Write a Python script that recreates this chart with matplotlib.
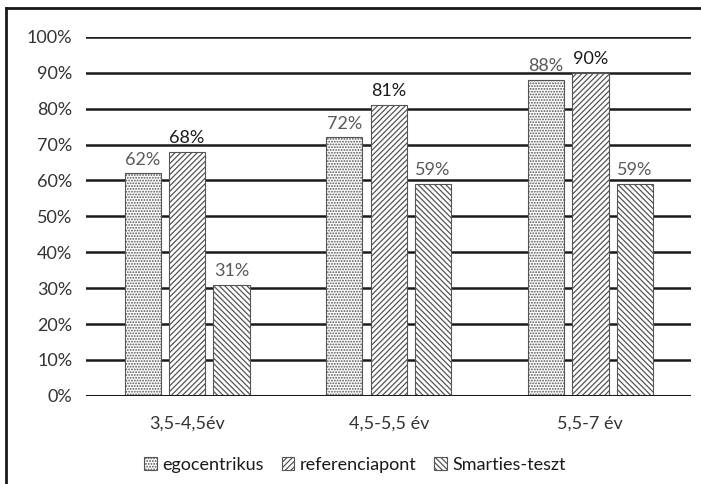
import matplotlib.pyplot as plt
import numpy as np
from matplotlib.lines import Line2D

plt.rcParams['font.family'] = ['Lato', 'DejaVu Sans']
plt.rcParams['hatch.linewidth'] = 0.9

# Age groups and the share of children in each task
age_groups = ['3,5-4,5év', '4,5-5,5 év', '5,5-7 év']
egocentrikus = [62, 72, 88]
referenciapont = [68, 81, 90]
smarties = [31, 59, 59]

series = [egocentrikus, referenciapont, smarties]
labels = ['egocentrikus', 'referenciapont', 'Smarties-teszt']
hatches = ['......', '//////', '\\\\\\\\\\\\']
label_colors = ['#595959', '#1a1a1a', '#595959']

fig = plt.figure(figsize=(7.01, 4.84), dpi=100)
ax = fig.add_axes([0.123, 0.182, 0.863, 0.742])

x = np.arange(len(age_groups))
width = 0.18
offset = 0.22

for i, (vals, lab, h, lc) in enumerate(zip(series, labels, hatches, label_colors)):
    pos = x + (i - 1) * offset
    bars = ax.bar(pos, vals, width=width, color='white', edgecolor='#555555',
                  hatch=h, linewidth=0.8, label=lab, zorder=3)
    for b, v in zip(bars, vals):
        ax.text(b.get_x() + b.get_width() / 2, v + 1.6, f'{v}%', ha='center',
                va='bottom', fontsize=13, color=lc)

ax.set_ylim(0, 100)
ax.set_xlim(-0.5, 2.5)
ax.set_yticks(np.arange(0, 101, 10))
ax.set_yticklabels([f'{t}%' for t in range(0, 101, 10)], fontsize=13, color='#333333')
ax.set_xticks(x)
ax.set_xticklabels(age_groups, fontsize=13, color='#333333')
ax.tick_params(length=0, pad=10)
ax.tick_params(axis='x', pad=14)
ax.yaxis.grid(True, color='#1a1a1a', linewidth=1.8, zorder=0)
ax.set_axisbelow(True)
for s in ax.spines.values():
    s.set_visible(False)
ax.axhline(0, color='#1a1a1a', linewidth=2.2, zorder=4)

fig.legend(loc='center', bbox_to_anchor=(355 / 701, 1 - 465 / 484), ncol=3, frameon=False,
           fontsize=13, handlelength=0.7, handleheight=0.7, handletextpad=0.3,
           columnspacing=1.0, labelcolor='#1a1a1a')

# border around the chart area
fig.add_artist(Line2D([6 / 701, 6 / 701], [0, 1 - 8 / 484], color='#1a1a1a', linewidth=2))
fig.add_artist(Line2D([6 / 701, 1], [1 - 8 / 484, 1 - 8 / 484], color='#1a1a1a', linewidth=2))

fig.savefig('out.png', dpi=100)
